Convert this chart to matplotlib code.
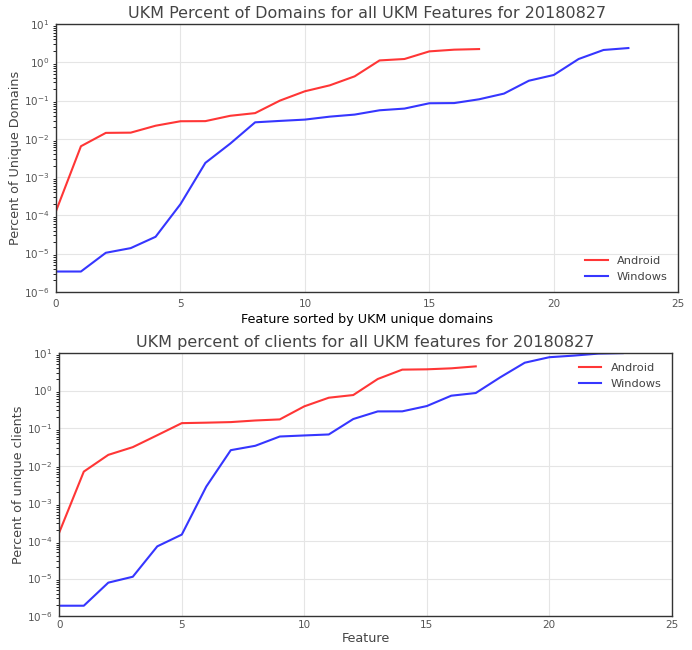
import matplotlib
matplotlib.use('Agg')

import matplotlib.pyplot as plt

# ---------------- data ----------------
features_android = list(range(18))
features_windows = list(range(24))

domains_android = [1.3e-4, 6.4e-3, 0.0143, 0.0145, 0.022, 0.0288, 0.029, 0.040, 0.047,
                   0.10, 0.175, 0.25, 0.43, 1.12, 1.22, 1.93, 2.14, 2.22]
domains_windows = [3.4e-6, 3.4e-6, 1.05e-5, 1.39e-5, 2.75e-5, 1.96e-4, 2.35e-3, 7.5e-3, 0.027,
                   0.0294, 0.0318, 0.038, 0.043, 0.0557, 0.0617, 0.085, 0.086, 0.108,
                   0.152, 0.33, 0.466, 1.22, 2.1, 2.36]

clients_android = [1.7e-4, 7.0e-3, 0.0195, 0.0313, 0.065, 0.136, 0.14, 0.145, 0.16,
                   0.171, 0.38, 0.645, 0.76, 2.03, 3.6, 3.67, 3.9, 4.4]
clients_windows = [1.9e-6, 1.9e-6, 7.8e-6, 1.12e-5, 7.2e-5, 1.48e-4, 2.8e-3, 0.026, 0.034,
                   0.060, 0.064, 0.068, 0.175, 0.279, 0.28, 0.387, 0.73, 0.86,
                   2.25, 5.5, 7.7, 8.5, 9.6, 9.9]

txt = '#444444'

fig = plt.figure(figsize=(6.92, 6.5), dpi=100)
ax1 = fig.add_axes([0.081, 0.551, 0.899, 0.412])
ax2 = fig.add_axes([0.0857, 0.052, 0.885, 0.405])


def style(ax):
    ax.set_yscale('log')
    ax.set_xlim(0, 25)
    ax.set_ylim(1e-6, 10)
    ax.grid(True, color='#e5e5e5', linewidth=0.8)
    ax.set_axisbelow(True)
    ax.tick_params(length=0, labelsize=7.5, labelcolor='#555555', pad=5)
    for s in ax.spines.values():
        s.set_color('#333333')
        s.set_linewidth(1.0)


#******************************** top plot ********************************
ax1.plot(features_android, domains_android, color='#ff2020', lw=1.5, alpha=0.9, label='Android')
ax1.plot(features_windows, domains_windows, color='#2020ff', lw=1.5, alpha=0.9, label='Windows')
style(ax1)
ax1.set_title('UKM Percent of Domains for all UKM Features for 20180827', fontsize=11.5, color=txt, pad=4)
ax1.set_xlabel('Feature sorted by UKM unique domains', fontsize=9.2, color='black', labelpad=3)
ax1.set_ylabel('Percent of Unique Domains', fontsize=9.2, color=txt, labelpad=1)
leg = ax1.legend(loc='lower right', frameon=False, fontsize=8.2)
for t in leg.get_texts():
    t.set_color(txt)

#******************************** bottom plot ********************************
ax2.plot(features_android, clients_android, color='#ff2020', lw=1.5, alpha=0.9, label='Android')
ax2.plot(features_windows, clients_windows, color='#2020ff', lw=1.5, alpha=0.9, label='Windows')
style(ax2)
ax2.tick_params(axis='x', pad=3)
ax2.set_title('UKM percent of clients for all UKM features for 20180827', fontsize=11.5, color=txt, pad=4)
ax2.set_xlabel('Feature', fontsize=9.2, color=txt, labelpad=1)
ax2.set_ylabel('Percent of unique clients', fontsize=9.2, color=txt, labelpad=1)
leg = ax2.legend(loc='upper right', frameon=False, fontsize=8.2)
for t in leg.get_texts():
    t.set_color(txt)

plt.savefig('out.png', dpi=100)
